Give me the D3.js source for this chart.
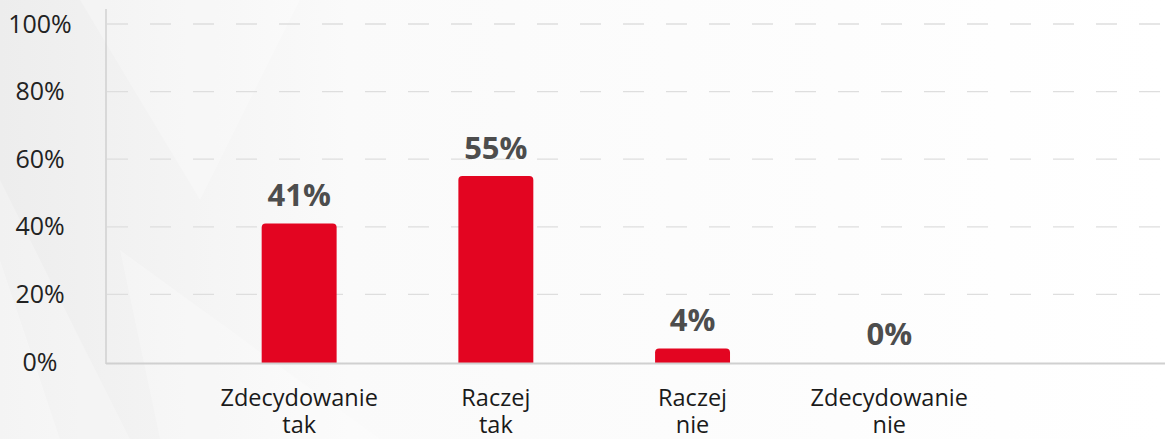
<!DOCTYPE html>
<html><head><meta charset="utf-8">
<script src="https://cdn.jsdelivr.net/npm/d3@7"></script>
<style>
html,body{margin:0;padding:0;background:#fff;}
svg{display:block;font-family:"Open Sans","Noto Sans",sans-serif;}
</style></head>
<body>
<svg id="c" width="1165" height="439"></svg>
<script>
const categories = [["Zdecydowanie","tak"],["Raczej","tak"],["Raczej","nie"],["Zdecydowanie","nie"]];
const values = [41, 55, 4, 0];
const yTicks = [0, 20, 40, 60, 80, 100];
const tickLabels = ["0%","20%","40%","60%","80%","100%"];

(function(){
const W = 1165, H = 439;
const svg = d3.select("#c");

// subtle background shading
const defs = svg.append("defs");
const g1 = defs.append("linearGradient").attr("id","bg").attr("x1","0").attr("x2","1").attr("y1","0").attr("y2","0");
g1.append("stop").attr("offset","0").attr("stop-color","#ededed");
g1.append("stop").attr("offset","0.3").attr("stop-color","#fafafa");
g1.append("stop").attr("offset","1").attr("stop-color","#ffffff");
svg.append("rect").attr("width",W).attr("height",H).attr("fill","url(#bg)");
const polys = [
  [[0,180],[130,439],[0,439]],
  [[0,260],[60,439],[0,439]],
  [[80,0],[300,0],[200,200]],
  [[120,250],[380,439],[160,439]]
];
svg.selectAll("polygon.bgp").data(polys).join("polygon").attr("class","bgp")
  .attr("points",d=>d.map(p=>p.join(",")).join(" "))
  .attr("fill","#ffffff").attr("opacity",0.25);

const x0 = 106, x1 = 1165, yTop = 24, base = 362;
const y = d3.scaleLinear().domain([0,100]).range([base, yTop]);
const x = d3.scaleBand().domain(categories.map((c,i)=>i))
  .range([200.8, 987.6]).paddingInner(0.619).paddingOuter(0.3095);

// gridlines
svg.append("g").selectAll("line").data(yTicks.filter(t=>t>0)).join("line")
  .attr("x1",x0+1).attr("x2",x1).attr("y1",d=>y(d)).attr("y2",d=>y(d))
  .attr("stroke","#dedede").attr("stroke-width",1.3).attr("stroke-dasharray","21,22");

// y axis labels
const yAxis = d3.axisLeft(y).tickValues(yTicks).tickFormat((d,i)=>tickLabels[i]).tickSize(0);
const ya = svg.append("g").attr("transform",`translate(40,0)`).call(yAxis);
ya.select(".domain").remove();
ya.selectAll("text").attr("x",0).attr("text-anchor","middle")
  .attr("font-size",25).attr("fill","#222").attr("font-family","'Open Sans','Noto Sans',sans-serif");

// vertical axis line
svg.append("line").attr("x1",x0).attr("x2",x0).attr("y1",9).attr("y2",364)
  .attr("stroke","#c8c8c8").attr("stroke-width",1.2);

// bars with rounded top corners
const r = 4;
function barPath(i, v){
  const bx = x(i), bw = x.bandwidth(), by = y(v), bb = base+1;
  const h = bb - by;
  if (h <= 1) return "";
  const rr = Math.min(r, h, bw/2);
  return `M${bx},${bb}V${by+rr}Q${bx},${by} ${bx+rr},${by}H${bx+bw-rr}Q${bx+bw},${by} ${bx+bw},${by+rr}V${bb}Z`;
}
svg.append("g").selectAll("path").data(values).join("path")
  .attr("d",(d,i)=>barPath(i,d)).attr("fill","#e30521");

// baseline
svg.append("line").attr("x1",x0).attr("x2",x1).attr("y1",363.5).attr("y2",363.5)
  .attr("stroke","#d0d0d0").attr("stroke-width",1.8);

// value labels
svg.append("g").selectAll("text").data(values).join("text")
  .attr("x",(d,i)=>x(i)+x.bandwidth()/2).attr("y",d=>y(d)-17)
  .attr("text-anchor","middle").attr("font-size",31).attr("font-weight","bold")
  .attr("fill","#4d4d4d").text(d=>d+"%");

// category labels (one text per line)
const lines = [];
categories.forEach((c,i)=>c.forEach((t,j)=>lines.push({i,j,t})));
svg.append("g").selectAll("text").data(lines).join("text")
  .attr("x",d=>x(d.i)+x.bandwidth()/2).attr("y",d=>406+d.j*27)
  .attr("text-anchor","middle").attr("font-size",23.5).attr("fill","#1a1a1a")
  .text(d=>d.t);
})();
</script>
</body></html>
